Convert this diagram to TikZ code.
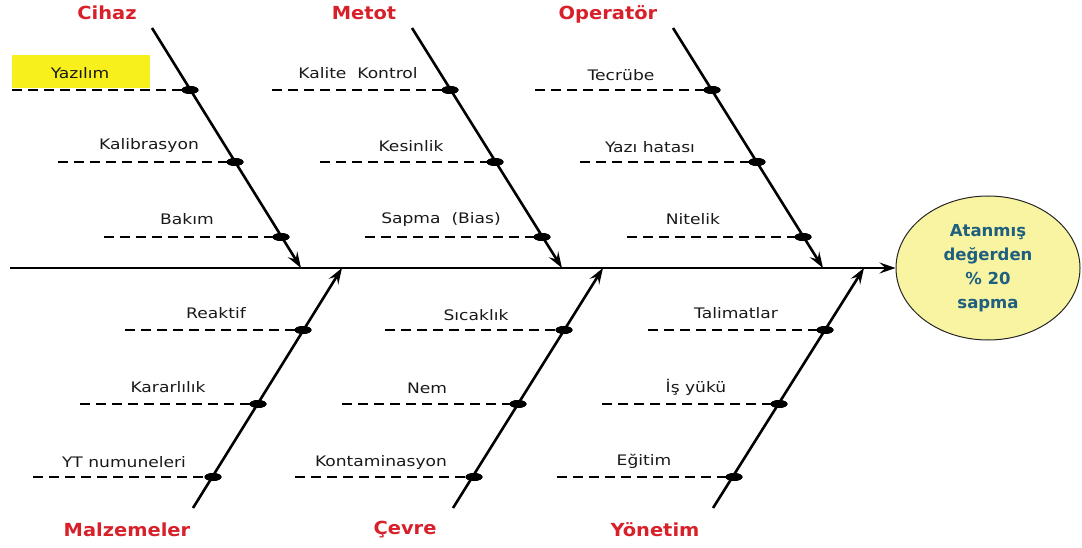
\documentclass[tikz,border=0pt]{standalone}
\usepackage{fontspec}
\setmainfont{DejaVu Sans}
\newfontfamily\labfont{DejaVu Sans}[FakeStretch=1.18]
\newfontfamily\titfont{DejaVu Sans}[FakeStretch=1.08]
\usetikzlibrary{arrows.meta,shapes.geometric}
\definecolor{titred}{HTML}{D8202A}
\definecolor{effblue}{HTML}{1F5F80}
\definecolor{effyel}{HTML}{F8F4A2}
\definecolor{hiyel}{HTML}{F7F01C}
\tikzset{
  lab/.style={font=\labfont\fontsize{14.5}{16}\selectfont, text=black!90, inner sep=0pt},
  tit/.style={font=\titfont\bfseries\fontsize{18}{20}\selectfont, text=titred, inner sep=0pt},
  tip/.style={-{Stealth[length=16pt,width=11pt,inset=6pt]}},
  bone/.style={line width=2.6pt, tip},
  subline/.style={line width=2.8pt, dash pattern=on 10pt off 6pt},
  dot/.style={ellipse, fill=black, minimum width=17pt, minimum height=8pt, inner sep=0pt},
}
\begin{document}
\begin{tikzpicture}[x=1pt,y=-1pt]
\useasboundingbox (0,0) rectangle (1082,548);
% effect
\node[ellipse, draw=black!85, line width=1pt, fill=effyel, minimum width=184pt, minimum height=144pt, inner sep=0pt,
      align=center, text=effblue, font=\bfseries\fontsize{16.5}{24}\selectfont] (eff) at (988,268)
      {Atanmış\\değerden\\\% 20\\sapma};
% spine
\coordinate (s0) at (10,268);
\draw[line width=2.6pt, tip] (s0) -- (eff.west);
% bone end points
\coordinate (c1) at (152,28);  \coordinate (c2) at (301,268);
\coordinate (m1) at (412,28);  \coordinate (m2) at (562,268);
\coordinate (o1) at (673,28);  \coordinate (o2) at (823,268);
\coordinate (z1) at (193,508); \coordinate (z2) at (342,268);
\coordinate (e1) at (453,508); \coordinate (e2) at (603,268);
\coordinate (y1) at (713,508); \coordinate (y2) at (864,268);
% dots
\node[dot] (dc1) at (190,90) {};  \node[dot] (dc2) at (235,162) {};  \node[dot] (dc3) at (281,237) {};
\node[dot] (dm1) at (450,90) {};  \node[dot] (dm2) at (495,162) {};  \node[dot] (dm3) at (542,237) {};
\node[dot] (do1) at (712,90) {};  \node[dot] (do2) at (757,162) {};  \node[dot] (do3) at (803,237) {};
\node[dot] (dz1) at (303,330) {}; \node[dot] (dz2) at (258,404) {}; \node[dot] (dz3) at (213,477) {};
\node[dot] (de1) at (564,330) {}; \node[dot] (de2) at (518,404) {}; \node[dot] (de3) at (474,477) {};
\node[dot] (dy1) at (825,330) {}; \node[dot] (dy2) at (779,404) {}; \node[dot] (dy3) at (734,477) {};
% dashed start points
\coordinate (lc1) at (12,90);  \coordinate (lc2) at (58,162);  \coordinate (lc3) at (104,237);
\coordinate (lm1) at (272,90); \coordinate (lm2) at (320,162); \coordinate (lm3) at (365,237);
\coordinate (lo1) at (535,90); \coordinate (lo2) at (580,162); \coordinate (lo3) at (627,237);
\coordinate (lz1) at (125,330); \coordinate (lz2) at (80,404);  \coordinate (lz3) at (33,477);
\coordinate (le1) at (385,330); \coordinate (le2) at (342,404); \coordinate (le3) at (295,477);
\coordinate (ly1) at (648,330); \coordinate (ly2) at (602,404); \coordinate (ly3) at (557,477);
% highlight box
\node[fill=hiyel, minimum width=138pt, minimum height=33pt, inner sep=0pt, anchor=north west] (hl) at (12,55) {};
% dashed lines
\foreach \b in {c,m,o,z,e,y}{
  \foreach \i in {1,2,3}{
    \draw[subline] (l\b\i) -- (d\b\i.center);
  }
}
% bones
\draw[bone] (c1) -- (c2);
\draw[bone] (m1) -- (m2);
\draw[bone] (o1) -- (o2);
\draw[bone] (z1) -- (z2);
\draw[bone] (e1) -- (e2);
\draw[bone] (y1) -- (y2);
% redraw dots on top
\foreach \b in {c,m,o,z,e,y}{
  \foreach \i in {1,2,3}{
    \fill (d\b\i.center) ellipse (8.5pt and 4pt);
  }
}
% titles
\node[tit] (tc) at (107,13) {Cihaz};
\node[tit] (tm) at (364,13) {Metot};
\node[tit] (to) at (608,14) {Operatör};
\node[tit] (tz) at (127,530) {Malzemeler};
\node[tit] (te) at (405,530) {Çevre};
\node[tit] (ty) at (655,530) {Yönetim};
% labels
\node[lab] (a1) at (80,73) {Yazılım};
\node[lab] (a2) at (149,146) {Kalibrasyon};
\node[lab] (a3) at (187,219) {Bakım};
\node[lab] (b1) at (358,73) {Kalite~~Kontrol};
\node[lab] (b2) at (411,146) {Kesinlik};
\node[lab] (b3) at (441,220) {Sapma~~(Bias)};
\node[lab] (o1l) at (621,75) {Tecrübe};
\node[lab] (o2l) at (650,147) {Yazı hatası};
\node[lab] (o3l) at (693,219) {Nitelik};
\node[lab] (z1l) at (216,313) {Reaktif};
\node[lab] (z2l) at (168,387) {Kararlılık};
\node[lab] (z3l) at (124,462) {YT numuneleri};
\node[lab] (e1l) at (476,315) {Sıcaklık};
\node[lab] (e2l) at (427,388) {Nem};
\node[lab] (e3l) at (381,462) {Kontaminasyon};
\node[lab] (y1l) at (736,313) {Talimatlar};
\node[lab] (y2l) at (696,387) {İş yükü};
\node[lab] (y3l) at (644,461) {Eğitim};
\end{tikzpicture}
\end{document}
